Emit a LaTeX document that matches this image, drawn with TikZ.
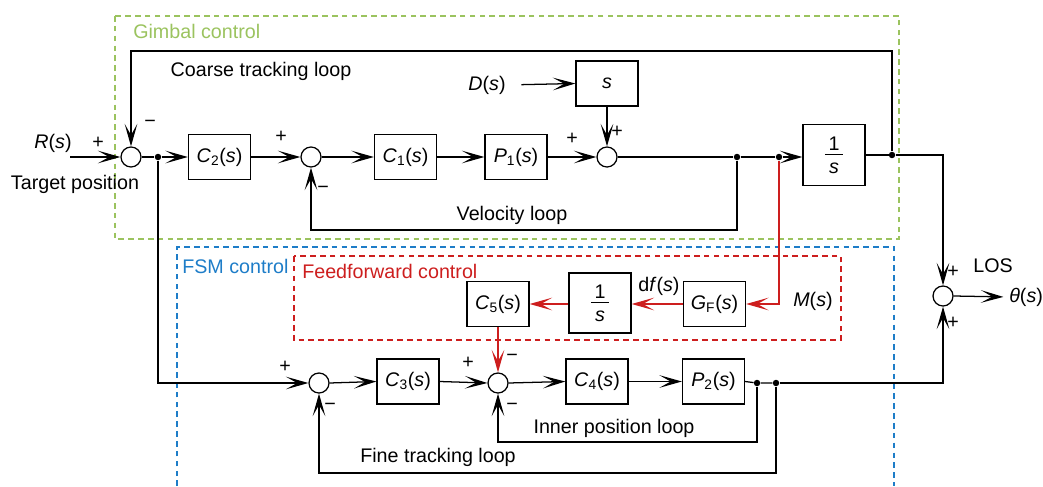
\documentclass[tikz,border=0pt]{standalone}
\usepackage{fontspec}
\setmainfont{Liberation Sans}
\usetikzlibrary{arrows.meta}

\definecolor{gimbalgreen}{RGB}{155,195,95}
\definecolor{fsmblue}{RGB}{30,125,200}
\definecolor{ffred}{RGB}{205,30,30}

% transfer function with index, e.g. C_2(s)
\newcommand{\tfn}[2]{\textit{#1}\textsubscript{#2}(\textit{s})}
% stacked fraction set in the text font
\newcommand{\ofrac}[2]{\vbox{\offinterlineskip\halign{\hfil##\hfil\cr#1\cr
  \noalign{\kern2.8pt}\vrule width 13pt height 0.7pt\cr\noalign{\kern5.4pt}#2\cr}}}

\tikzset{
  sigtip/.tip={Stealth[length=16pt,width=9pt,inset=8pt]}
}

\begin{document}
\begin{tikzpicture}[x=0.025cm,y=-0.025cm,
  font=\fontsize{14}{17}\selectfont,
  blk/.style={draw, line width=0.9pt, minimum width=1.55cm, minimum height=1.125cm, inner sep=0pt, fill=white},
  sumj/.style={draw, circle, line width=0.9pt, minimum size=0.5cm, inner sep=0pt},
  dotj/.style={circle, fill, inner sep=0pt, minimum size=4.6pt},
  wire/.style={line width=0.9pt},
  arr/.style={wire, -sigtip},
  lbl/.style={inner sep=0pt},
  sgn/.style={inner sep=0pt, font=\fontsize{14}{16}\selectfont},
  grp/.style={line width=0.8pt, dash pattern=on 4pt off 3pt}]
\useasboundingbox (0,0) rectangle (1043,486);

% group frames
\draw[grp, gimbalgreen] (115,16) rectangle (899,239);
\draw[grp, fsmblue] (177,486) -- (177,247) -- (894,247) -- (894,486);
\draw[grp, ffred] (294,256) rectangle (841,340);
\node[lbl, anchor=west, text=gimbalgreen] (tg) at (133,31) {Gimbal control};
\node[lbl, anchor=west, text=fsmblue] (tf) at (182,266) {FSM control};
\node[lbl, anchor=west, text=ffred] (tff) at (302,271) {Feedforward control};

% gimbal row
\node[sumj] (sum1) at (131,157) {};
\node[dotj] (j1) at (158,157) {};
\node[blk] (C2) at (219.5,157) {\tfn{C}{2}};
\node[sumj] (sum2) at (311,157) {};
\node[blk] (C1) at (405.5,157) {\tfn{C}{1}};
\node[blk] (P1) at (516,157) {\tfn{P}{1}};
\node[sumj] (sum3) at (607,157) {};
\node[blk] (sbx) at (607,83.5) {\textit{s}};
\node[lbl] (Ds) at (487,85) {\textit{D}(\textit{s})};
\node[dotj] (j2) at (737,157) {};
\node[dotj] (j3) at (779,157) {};
\node[blk, minimum height=1.525cm] (Int) at (834,155) {\ofrac{1}{\textit{s}}};
\node[dotj] (j4) at (892,155) {};
\coordinate (ctop) at (892,51);
\coordinate (vbot) at (737,230);
\coordinate (rin) at (70,157);
\node[lbl] (Rs) at (53,143) {\textit{R}(\textit{s})};
\node[lbl] (tp) at (75,184) {Target position};

% line of sight output
\node[sumj] (los) at (943,296) {};
\node[lbl, anchor=west] (theta) at (1009,297) {\textit{θ}(\textit{s})};
\node[lbl] (loslbl) at (993,266) {LOS};

% feedforward path
\node[blk] (GF) at (714.5,304) {\textit{G}\textsubscript{F}(\textit{s})};
\node[blk, minimum height=1.5cm] (FFi) at (600,303) {\ofrac{1}{\textit{s}}};
\node[blk] (C5) at (498,304) {\tfn{C}{5}};
\node[lbl] (Ms) at (813,301) {\textit{M}(\textit{s})};
\node[lbl] (dfs) at (659,286) {d\textit{f}(\textit{s})};

% FSM row
\node[sumj] (sum4) at (319,383) {};
\node[blk] (C3) at (408,381.5) {\tfn{C}{3}};
\node[sumj] (sum5) at (498,383) {};
\node[blk] (C4) at (597,381.5) {\tfn{C}{4}};
\node[blk] (P2) at (713.5,381.5) {\tfn{P}{2}};
\node[dotj] (j5) at (757,383) {};
\node[dotj] (j6) at (776,383) {};
\coordinate (ibot) at (757,442);
\coordinate (fbot) at (776,473);

% loop names
\node[lbl] (lc) at (261,71) {Coarse tracking loop};
\node[lbl] (lv) at (512,215) {Velocity loop};
\node[lbl] (li) at (614,428) {Inner position loop};
\node[lbl] (lf) at (438,457) {Fine tracking loop};

% connectors, gimbal
\draw[arr] (rin) -- (sum1.west);
\draw[wire] (sum1.east) -- (j1);
\draw[arr] (j1) -- (C2.west);
\draw[arr] (C2.east) -- (sum2.west);
\draw[arr] (sum2.east) -- (C1.west);
\draw[arr] (C1.east) -- (P1.west);
\draw[arr] (P1.east) -- (sum3.west);
\draw[arr, shorten <=11pt] (Ds.east) -- (sbx.west);
\draw[arr] (sbx.south) -- (sum3.north);
\draw[wire] (sum3.east) -- (j2) -- (j3);
\draw[arr] (j3) -- (j3 -| Int.west);
\draw[wire] (Int.east) -- (j4);
\draw[arr] (j4) -- (ctop) -| (sum1.north);
\draw[arr] (j2) -- (vbot) -| (sum2.south);
\draw[arr] (j4) -| (los.north);
\draw[arr, shorten >=4pt] (los.east) -- (theta.west);

% connectors, feedforward
\draw[arr, ffred] (j3) |- (GF.east);
\draw[arr, ffred] (GF.west) -- (GF.west -| FFi.east);
\draw[arr, ffred] (C5.east -| FFi.west) -- (C5.east);
\draw[arr, ffred] (C5.south) -- (sum5.north);

% connectors, FSM
\draw[arr] (j1) |- (sum4.west);
\draw[arr] (sum4.east) -- (C3.west);
\draw[arr] (C3.east) -- (sum5.west);
\draw[arr] (sum5.east) -- (C4.west);
\draw[arr] (C4.east) -- (P2.west);
\draw[wire] (P2.east) -- (j5) -- (j6);
\draw[arr] (j6) -| (los.south);
\draw[arr] (j5) -- (ibot) -| (sum5.south);
\draw[arr] (j6) -- (fbot) -| (sum4.south);

% summing signs
\node[sgn] (s1a) at (98,143) {+};
\node[sgn] (s1b) at (150,124) {−};
\node[sgn] (s2a) at (281,137) {+};
\node[sgn] (s2b) at (323,190) {−};
\node[sgn] (s3a) at (572,139) {+};
\node[sgn] (s3b) at (617,132) {+};
\node[sgn] (s4a) at (285,367) {+};
\node[sgn] (s4b) at (330,407) {−};
\node[sgn] (s5a) at (468,363) {+};
\node[sgn] (s5b) at (512,358) {−};
\node[sgn] (s5c) at (512,407) {−};
\node[sgn] (s6a) at (953,272) {+};
\node[sgn] (s6b) at (953,323) {+};
\end{tikzpicture}
\end{document}
